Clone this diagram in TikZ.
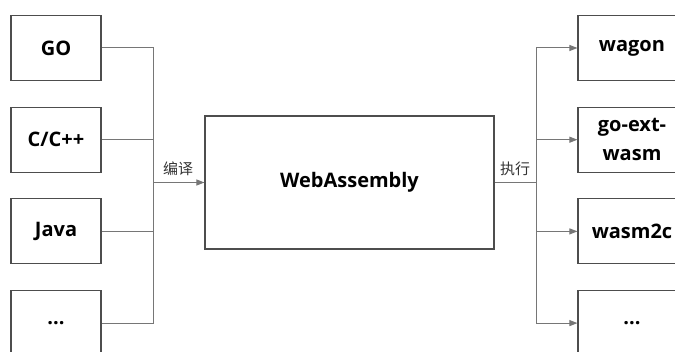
\documentclass[tikz,border=0pt]{standalone}
\usepackage{fontspec}
\setmainfont{Open Sans}
\newfontfamily\cjk{Noto Sans CJK SC}
\usetikzlibrary{arrows.meta}

\definecolor{boxgray}{HTML}{4D4D4D}
\definecolor{linegray}{HTML}{767676}

\begin{document}
\begin{tikzpicture}[
                    x=1pt, y=1pt,
                    node distance=91.7pt,
                    box/.style={
                        draw=boxgray,
                        line width=1.1pt,
                        minimum width=90pt,
                        minimum height=65pt,
                        align=center,
                        inner sep=2pt,
                        font=\fontsize{20}{24}\selectfont\bfseries
                    },
                    runbox/.style={box, minimum width=108pt},
                    link/.style={draw=linegray, line width=1pt},
                    feed/.style={link, -{Triangle[length=8pt,width=6pt]}, color=linegray},
                    tag/.style={font=\cjk\fontsize{15}{18}\selectfont, text=black!80, inner sep=1pt}
                ]
                    \useasboundingbox (0,0) rectangle (675,351);
                    \clip (0,0) rectangle (675,351);

                    % sources
                    \node[box] (go) at (56,303) {GO};
                    \node[box] (cpp) [below of=go] {C/C++};
                    \node[box] (java) [below of=cpp] {Java};
                    \node[box] (more) [below of=java] {...};

                    % target
                    \node[box, minimum width=289pt, minimum height=133pt] (wasm) at (349.5,168.5) {WebAssembly};

                    % runtimes
                    \node[runbox] (wagon) at (632,303) {wagon};
                    \node[runbox] (goext) [below of=wagon] {go-ext-\\[5pt]wasm};
                    \node[runbox] (w2c) [below of=goext] {wasm2c};
                    \node[runbox] (etc) [below of=w2c] {...};

                    \coordinate (inbus) at (153,168.5);
                    \coordinate (outbus) at (536,168.5);

                    % Edges
                    \draw[link] (go.east) -| (inbus);
                    \draw[link] (cpp.east) -| (inbus);
                    \draw[link] (java.east) -| (inbus);
                    \draw[link] (more.east) -| (inbus);
                    \draw[feed] (inbus) -- (wasm.west);
                    \draw[link] (wasm.east) -- (outbus);
                    \draw[feed] (outbus) |- (wagon.west);
                    \draw[feed] (outbus) |- (goext.west);
                    \draw[feed] (outbus) |- (w2c.west);
                    \draw[feed] (outbus) |- (etc.west);

                    \node[tag] (compile) at (178,182) {编译};
                    \node[tag] (run) at (515,182) {执行};
                \end{tikzpicture}
\end{document}
